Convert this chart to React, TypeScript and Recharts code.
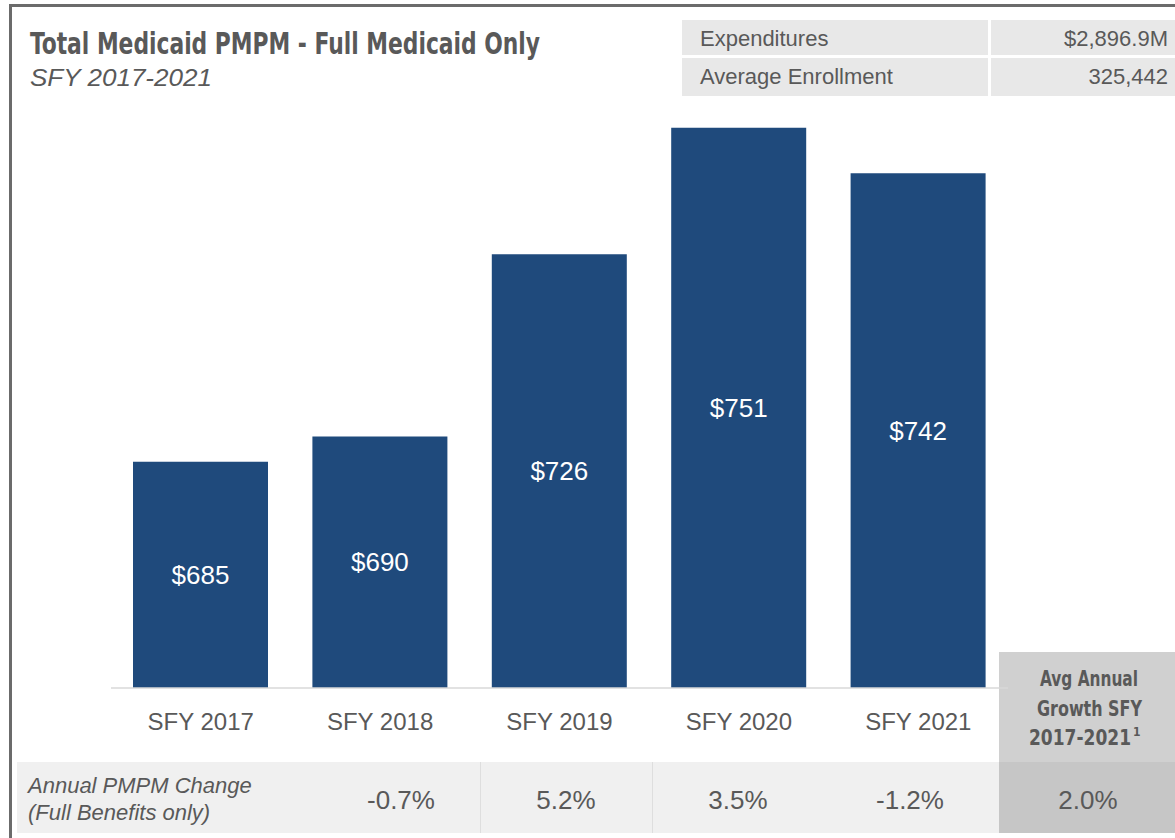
import React from "react";
import { Bar, BarChart, LabelList, XAxis, YAxis } from "recharts";

// values
const categories = ["SFY 2017", "SFY 2018", "SFY 2019", "SFY 2020", "SFY 2021"];
const pmpm = [685, 690, 726, 751, 742];
const annualChange = ["-0.7%", "5.2%", "3.5%", "-1.2%"];
const avgGrowth = "2.0%";
const summaryLabels = ["Expenditures", "Average Enrollment"];
const summaryValues = ["$2,896.9M", "325,442"];

const data = categories.map((name, i) => ({ name, value: pmpm[i] }));

const W = 1175;
const H = 838;
const TEXT = "#595959";
const BAR = "#1f4a7c";
const SANS = "'Liberation Sans', Arial, Helvetica, sans-serif";
const NARROW = "'Liberation Sans Narrow', 'DejaVu Sans Condensed', 'Roboto Condensed', 'Liberation Sans', sans-serif";

// x centres of the change row cells
const changeX = [401, 566, 738, 910];

const CategoryTick = (props: any) => {
  const { x, y, payload } = props;
  return (
    <text x={x} y={y + 34} textAnchor="middle" fill={TEXT} fontSize={24} fontFamily={SANS}>
      {payload.value}
    </text>
  );
};

export default function App() {
  return (
    <div style={{ position: "absolute", left: 0, top: 0, width: W, height: H, overflow: "hidden", background: "#fff" }}>
      {/* frame */}
      <div style={{ position: "absolute", left: 9, top: 4, width: W, height: H, borderLeft: "3px solid #6b6b6b", borderTop: "3px solid #6b6b6b" }} />

      {/* summary table */}
      <div style={{ position: "absolute", left: 682, top: 20, width: 306, height: 35, background: "#e8e8e8" }} />
      <div style={{ position: "absolute", left: 991, top: 20, width: 184, height: 35, background: "#e8e8e8" }} />
      <div style={{ position: "absolute", left: 682, top: 58, width: 306, height: 38, background: "#e8e8e8" }} />
      <div style={{ position: "absolute", left: 991, top: 58, width: 184, height: 38, background: "#e8e8e8" }} />

      {/* change row */}
      <div style={{ position: "absolute", left: 17, top: 762, width: 982, height: 71, background: "#f0f0f0" }} />
      <div style={{ position: "absolute", left: 480, top: 762, width: 1, height: 71, background: "#dedede" }} />
      <div style={{ position: "absolute", left: 652, top: 762, width: 1, height: 71, background: "#dedede" }} />

      {/* average growth column */}
      <div style={{ position: "absolute", left: 999, top: 652, width: 176, height: 110, background: "#d0d0d0" }} />
      <div style={{ position: "absolute", left: 999, top: 762, width: 176, height: 71, background: "#c6c6c6" }} />

      <div style={{ position: "absolute", left: 0, top: 0 }}>
        <BarChart width={W} height={H} data={data} margin={{ top: 100, right: 167, left: 111, bottom: 110 }}>
          <XAxis
            dataKey="name"
            height={40}
            axisLine={{ stroke: "#d9d9d9", strokeWidth: 1.5 }}
            tickLine={false}
            interval={0}
            tick={<CategoryTick />}
          />
          <YAxis hide domain={[640.3, 756.5]} allowDataOverflow />
          <Bar dataKey="value" fill={BAR} barSize={135} isAnimationActive={false}>
            <LabelList
              dataKey="value"
              position="center"
              fill="#fff"
              fontSize={26}
              fontFamily={SANS}
              formatter={(v: any) => `$${v}`}
            />
          </Bar>
        </BarChart>
      </div>

      <svg width={W} height={H} style={{ position: "absolute", left: 0, top: 0, pointerEvents: "none" }}>
        <text x={30} y={54} fill={TEXT} fontSize={30} fontWeight="bold" fontFamily={NARROW} textLength={510} lengthAdjust="spacingAndGlyphs">
          Total Medicaid PMPM - Full Medicaid Only
        </text>
        <text x={30} y={86} fill={TEXT} fontSize={23} fontStyle="italic" fontFamily={SANS} textLength={182} lengthAdjust="spacingAndGlyphs">
          SFY 2017-2021
        </text>

        {summaryLabels.map((l, i) => (
          <text key={l} x={700} y={i === 0 ? 46 : 84} fill={TEXT} fontSize={22} fontFamily={SANS}>
            {l}
          </text>
        ))}
        {summaryValues.map((v, i) => (
          <text key={v} x={1168} y={i === 0 ? 46 : 84} fill={TEXT} fontSize={22} fontFamily={SANS} textAnchor="end">
            {v}
          </text>
        ))}

        <text x={28} y={793} fill={TEXT} fontSize={22} fontStyle="italic" fontFamily={SANS}>
          Annual PMPM Change
        </text>
        <text x={28} y={820} fill={TEXT} fontSize={22} fontStyle="italic" fontFamily={SANS}>
          (Full Benefits only)
        </text>
        {annualChange.map((c, i) => (
          <text key={c} x={changeX[i]} y={809} fill={TEXT} fontSize={26} fontFamily={SANS} textAnchor="middle">
            {c}
          </text>
        ))}

        <g fill={TEXT} fontSize={22} fontWeight="bold" fontFamily={NARROW}>
          <text x={1040} y={686} textLength={98} lengthAdjust="spacingAndGlyphs">Avg Annual</text>
          <text x={1037} y={716} textLength={105} lengthAdjust="spacingAndGlyphs">Growth SFY</text>
          <text x={1029} y={745}>
            <tspan textLength={102} lengthAdjust="spacingAndGlyphs">2017-2021</tspan>
            <tspan fontSize={12} dx={2} dy={-9}>1</tspan>
          </text>
        </g>
        <text x={1088} y={809} fill={TEXT} fontSize={26} fontFamily={SANS} textAnchor="middle">
          {avgGrowth}
        </text>
      </svg>
    </div>
  );
}
